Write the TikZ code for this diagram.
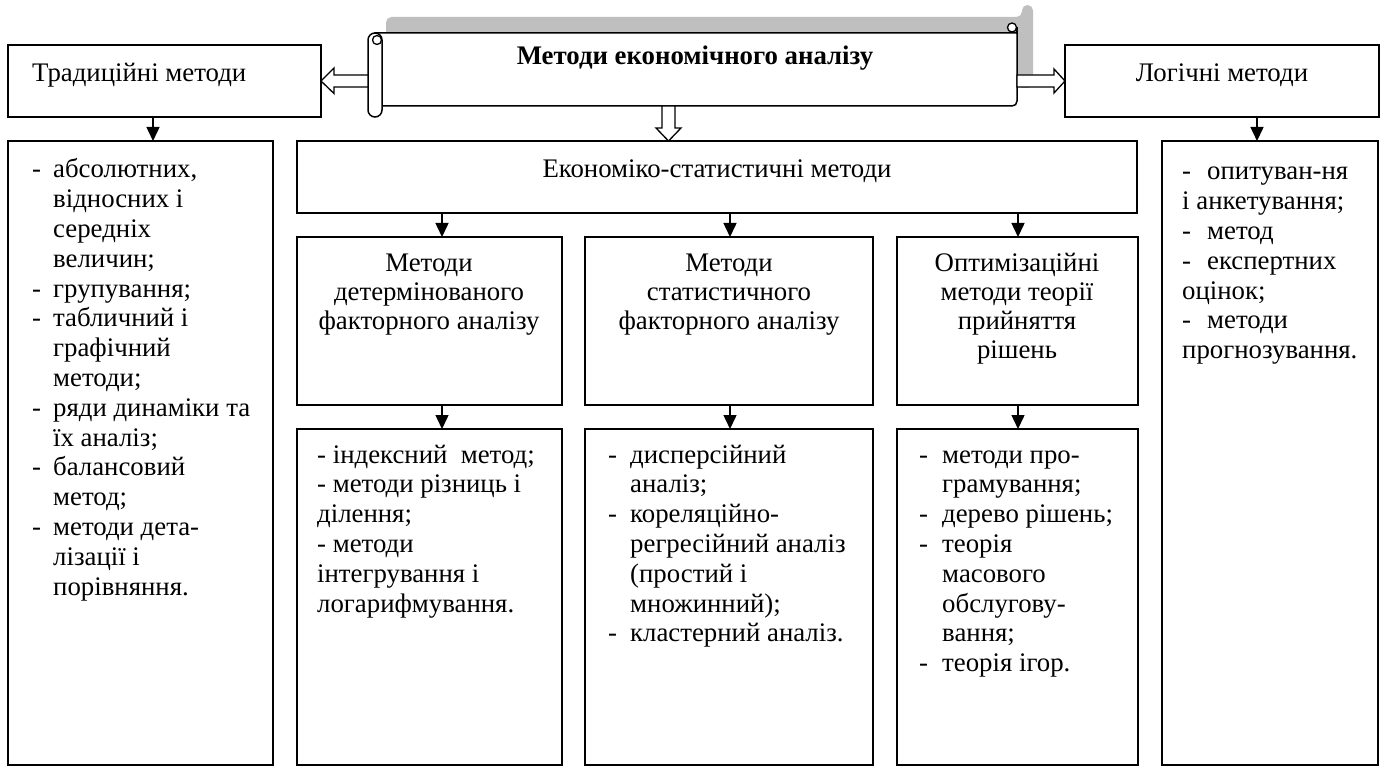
\documentclass[tikz,border=0pt]{standalone}
\usepackage{fontspec}
\setmainfont{Liberation Serif}
\usetikzlibrary{arrows.meta}
\definecolor{shadowgray}{HTML}{BFBFBF}
\newcommand\dsh[1]{\makebox[#1][l]{-}}
\begin{document}
\begin{tikzpicture}[x=1pt,y=-1pt,
  box/.style={draw, line width=1.5pt, inner sep=0pt, outer sep=0pt, anchor=north west},
  txt/.style={font=\fontsize{26.8pt}{29.8pt}\selectfont, inner sep=0pt},
  ttl/.style={font=\fontsize{26.8pt}{28.8pt}\selectfont, inner sep=0pt, anchor=base},
  arr/.style={line width=1.5pt, -{Triangle[length=14pt,width=13pt]}},
  hollow/.style={draw, fill=white, line width=1.3pt, line join=miter}]
\useasboundingbox (0,0) rectangle (1383,767);

% boxes
\node[box, minimum width=313pt, minimum height=72pt] (trad) at (8,45) {};
\node[box, minimum width=314pt, minimum height=72pt] (logic) at (1065,45) {};
\node[box, minimum width=265pt, minimum height=624pt] (tradlist) at (8,141) {};
\node[box, minimum width=840pt, minimum height=72pt] (econ) at (297,141) {};
\node[box, minimum width=265pt, minimum height=168pt] (det) at (297,237) {};
\node[box, minimum width=288pt, minimum height=168pt] (stat) at (585,237) {};
\node[box, minimum width=241pt, minimum height=168pt] (opt) at (897,237) {};
\node[box, minimum width=265pt, minimum height=336pt] (detlist) at (297,429) {};
\node[box, minimum width=288pt, minimum height=336pt] (statlist) at (585,429) {};
\node[box, minimum width=241pt, minimum height=336pt] (optlist) at (897,429) {};
\node[box, minimum width=216pt, minimum height=624pt] (loglist) at (1162,141) {};

% scroll (shadow, body, rolls)
\fill[shadowgray, rounded corners=5.5pt] (386,40) -- (386,17) -- (1022,17) -- (1022,5) -- (1033,5) -- (1033,88) -- (1017,88) -- (1017,40) -- cycle;
\coordinate (sL) at (369,81);
\coordinate (sR) at (1017,81);
\coordinate (sB) at (668.5,106);
\filldraw[fill=white, line width=1.5pt] (375,33) -- (1017,33) -- (1017,101) .. controls (1017,104) and (1015,106) .. (1012,106) -- (375,106) -- cycle;
\filldraw[fill=white, line width=1.3pt] (1012,27.5) circle[radius=4.5];
\draw[line width=1.5pt] (1017,27) -- (1017,34);

% hollow arrows from the scroll
\draw[hollow] (sL) ++(0,-6) -- ++(-35,0) -- ++(0,-7) -- (trad.east) -- ++(13,12.5) -- ++(0,-6.5) -- ++(35,0) -- cycle;
\draw[hollow] (sR) ++(0,-6) -- ++(37,0) -- ++(0,-6) -- (logic.west) -- ++(-11,12) -- ++(0,-6) -- ++(-37,0) -- cycle;
\draw[hollow] (sB) ++(-6.5,0) -- ++(0,22) -- ++(-6,0) -- (econ.north -| sB) -- ++(12.5,-13) -- ++(-6,0) -- ++(0,-22) -- cycle;

% left roll
\filldraw[fill=white, line width=1.5pt, rounded corners=7pt] (368,33) rectangle (382,117);
\draw[line width=1.3pt] (377,40) circle[radius=4.5];

% title
\node[font=\fontsize{26.8pt}{30pt}\selectfont\bfseries, inner sep=0pt, anchor=base] (title) at (695,65) {Методи економічного аналізу};

% black arrows
\draw[arr] (153,0 |- trad.south) -- (153,0 |- tradlist.north);
\draw[arr] (1257,0 |- logic.south) -- (1257,0 |- loglist.north);
\draw[arr] (442,0 |- econ.south) -- (442,0 |- det.north);
\draw[arr] (730,0 |- econ.south) -- (730,0 |- stat.north);
\draw[arr] (1018,0 |- econ.south) -- (1018,0 |- opt.north);
\draw[arr] (442,0 |- det.south) -- (442,0 |- detlist.north);
\draw[arr] (730,0 |- stat.south) -- (730,0 |- statlist.north);
\draw[arr] (1018,0 |- opt.south) -- (1018,0 |- optlist.north);

% headings
\node[txt, anchor=base west] (tradt) at (32,82) {Традиційні методи};
\node[txt, anchor=base] (logict) at (1222,82) {Логічні методи};
\node[txt, anchor=base] (econt) at (717,178) {Економіко-статистичні методи};
\node[ttl] (dett) at (429,272) {\begin{tabular}[t]{@{}c@{}}Методи\\детермінованого\\факторного аналізу\end{tabular}};
\node[ttl] (statt) at (729,272) {\begin{tabular}[t]{@{}c@{}}Методи\\статистичного\\факторного аналізу\end{tabular}};
\node[ttl] (optt) at (1017,272) {\begin{tabular}[t]{@{}c@{}}Оптимізаційні\\методи теорії\\прийняття\\рішень\end{tabular}};

% lists
\node[txt, anchor=base west] (tradl) at (32,178) {\begin{tabular}[t]{@{}l@{}}
\dsh{21pt}абсолютних,\\ \hspace*{21pt}відносних і\\ \hspace*{21pt}середніх\\ \hspace*{21pt}величин;\\
\dsh{21pt}групування;\\
\dsh{21pt}табличний і\\ \hspace*{21pt}графічний\\ \hspace*{21pt}методи;\\
\dsh{21pt}ряди динаміки та\\ \hspace*{21pt}їх аналіз;\\
\dsh{21pt}балансовий\\ \hspace*{21pt}метод;\\
\dsh{21pt}методи дета-\\ \hspace*{21pt}лізації і\\ \hspace*{21pt}порівняння.
\end{tabular}};
\node[txt, anchor=base west] (detl) at (317,463) {\begin{tabular}[t]{@{}l@{}}
- індексний\ \ метод;\\
- методи різниць і\\ ділення;\\
- методи\\ інтегрування і\\ логарифмування.
\end{tabular}};
\node[txt, anchor=base west] (statl) at (608,463) {\begin{tabular}[t]{@{}l@{}}
\dsh{22pt}дисперсійний\\ \hspace*{22pt}аналіз;\\
\dsh{22pt}кореляційно-\\ \hspace*{22pt}регресійний аналіз\\ \hspace*{22pt}(простий і\\ \hspace*{22pt}множинний);\\
\dsh{22pt}кластерний аналіз.
\end{tabular}};
\node[txt, anchor=base west] (optl) at (919,463) {\begin{tabular}[t]{@{}l@{}}
\dsh{23pt}методи про-\\ \hspace*{23pt}грамування;\\
\dsh{23pt}дерево рішень;\\
\dsh{23pt}теорія\\ \hspace*{23pt}масового\\ \hspace*{23pt}обслугову-\\ \hspace*{23pt}вання;\\
\dsh{23pt}теорія ігор.
\end{tabular}};
\node[txt, anchor=base west] (logl) at (1182,180) {\begin{tabular}[t]{@{}l@{}}
\dsh{25pt}опитуван-ня\\ і анкетування;\\
\dsh{25pt}метод\\
\dsh{25pt}експертних\\ оцінок;\\
\dsh{25pt}методи\\ прогнозування.
\end{tabular}};
\end{tikzpicture}
\end{document}
